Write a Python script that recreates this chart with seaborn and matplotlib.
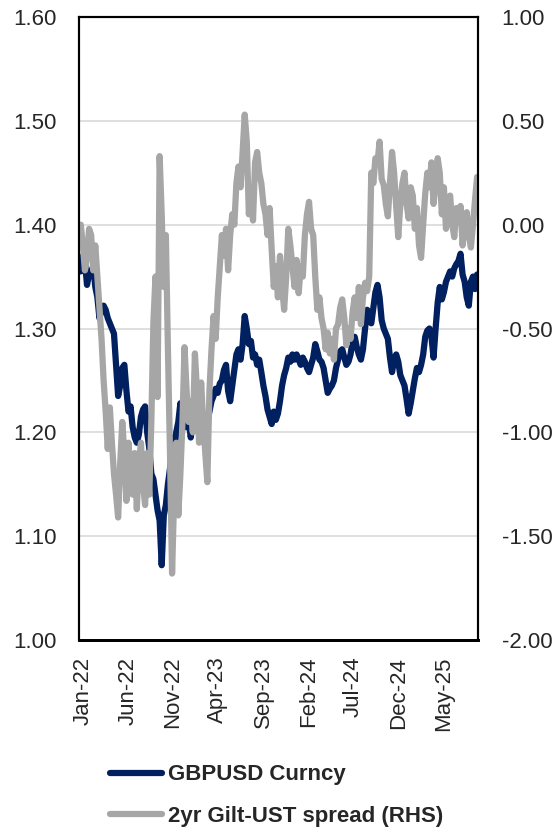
import pandas as pd
import seaborn as sns
import matplotlib.pyplot as plt
import matplotlib.dates as mdates
import matplotlib.transforms as mtrans

# weekly (Friday) observations, 7 Jan 2022 .. 5 Sep 2025
dates = pd.date_range("2022-01-07", "2025-09-05", freq="W-FRI")

# GBPUSD, one row per month
gbpusd = [
    1.355, 1.370, 1.365, 1.342,          # Jan-22
    1.352, 1.355, 1.360, 1.340,
    1.330, 1.310, 1.318, 1.322,
    1.318, 1.310, 1.305, 1.300, 1.295,
    1.265, 1.235, 1.245, 1.262,
    1.265, 1.240, 1.220, 1.225,
    1.205, 1.195, 1.190, 1.198, 1.215,
    1.222, 1.225, 1.200, 1.185,
    1.160, 1.155, 1.140, 1.125, 1.115,
    1.072, 1.120, 1.130, 1.150,
    1.165, 1.195, 1.180, 1.200,
    1.210, 1.228, 1.215, 1.205, 1.205,
    1.212, 1.195, 1.210, 1.235,          # Jan-23
    1.230, 1.215, 1.205, 1.200,
    1.198, 1.210, 1.220, 1.230, 1.235,
    1.242, 1.238, 1.247, 1.250,
    1.260, 1.265, 1.240, 1.230,
    1.245, 1.260, 1.275, 1.280, 1.270,
    1.285, 1.312, 1.300, 1.285,
    1.288, 1.272, 1.275, 1.265,
    1.270, 1.258, 1.245, 1.235, 1.222,
    1.215, 1.208, 1.220, 1.212,
    1.218, 1.230, 1.245, 1.255,
    1.262, 1.272, 1.268, 1.275, 1.270,
    1.275, 1.270, 1.265, 1.272,          # Jan-24
    1.268, 1.262, 1.258, 1.265,
    1.272, 1.285, 1.278, 1.270, 1.268,
    1.262, 1.250, 1.238, 1.242,
    1.245, 1.250, 1.262, 1.270, 1.278,
    1.280, 1.272, 1.265, 1.268,
    1.275, 1.288, 1.292, 1.282,
    1.275, 1.270, 1.280, 1.300, 1.318,
    1.310, 1.305, 1.320, 1.335,
    1.342, 1.330, 1.308, 1.300,
    1.295, 1.290, 1.272, 1.258, 1.270,
    1.275, 1.268, 1.255, 1.250,
    1.245, 1.232, 1.218, 1.228, 1.240,   # Jan-25
    1.252, 1.262, 1.258, 1.265,
    1.275, 1.292, 1.298, 1.300,
    1.292, 1.272, 1.300, 1.325,
    1.340, 1.328, 1.335, 1.345, 1.350,
    1.355, 1.350, 1.358, 1.362,
    1.365, 1.372, 1.352, 1.345,
    1.330, 1.322, 1.345, 1.350, 1.338,
    1.352,                               # Sep-25
]

# 2yr Gilt - UST spread (pp, right axis)
spread_2y = [
    0.00, -0.10, -0.22, -0.15,           # Jan-22
    -0.02, -0.05, -0.22, -0.10,
    -0.25, -0.40, -0.55, -0.75,
    -0.90, -1.08, -0.88, -1.05, -1.20,
    -1.30, -1.41, -1.15, -0.95,
    -1.10, -1.33, -1.05, -1.20,
    -1.30, -1.10, -1.37, -1.15, -1.05,
    -1.25, -1.35, -1.10, -1.30,
    -0.95, -0.47, -0.25, -0.83, 0.33,
    0.05, -0.30, -0.05, -0.60,
    -1.10, -1.68, -1.30, -1.05,
    -1.40, -1.20, -0.95, -0.59, -0.80,
    -0.95, -0.85, -1.00, -0.62,          # Jan-23
    -0.80, -1.05, -0.76, -0.95,
    -1.10, -1.24, -0.80, -0.60, -0.44,
    -0.55, -0.35, -0.20, -0.05,
    -0.15, -0.02, -0.22, -0.05,
    0.05, 0.00, 0.20, 0.28, 0.18,
    0.35, 0.53, 0.40, 0.05,
    0.18, 0.02, 0.30, 0.35,
    0.25, 0.20, 0.10, 0.05, -0.05,
    0.08, -0.12, -0.30, -0.20,
    -0.35, -0.15, -0.30, -0.41,
    -0.25, -0.02, -0.10, -0.20, -0.30,
    -0.17, -0.33, -0.20, -0.25,          # Jan-24
    -0.05, 0.05, 0.11, -0.02,
    -0.05, -0.25, -0.41, -0.35, -0.45,
    -0.50, -0.60, -0.52, -0.62,
    -0.55, -0.65, -0.50, -0.48, -0.40,
    -0.36, -0.45, -0.58, -0.50,
    -0.55, -0.42, -0.35, -0.45,
    -0.30, -0.48, -0.35, -0.28, -0.32,
    -0.25, 0.25, 0.20, 0.32,
    0.30, 0.40, 0.22, 0.19,
    0.10, 0.04, 0.20, 0.35, 0.25,
    0.09, -0.06, 0.10, 0.20,
    0.25, 0.10, 0.03, 0.18, 0.14,        # Jan-25
    -0.02, 0.08, -0.10, -0.16,
    0.00, 0.15, 0.25, 0.18,
    0.30, 0.10, 0.20, 0.32,
    0.25, 0.05, 0.18, -0.02, 0.10,
    0.14, 0.00, -0.06, 0.08,
    0.02, 0.09, -0.10, 0.00,
    0.06, -0.05, -0.11, 0.00, 0.12,
    0.23,                                # Sep-25
]

tick_dates = pd.date_range("2022-01-01", periods=9, freq="5MS")
left_ticks = [1.00, 1.10, 1.20, 1.30, 1.40, 1.50, 1.60]
right_ticks = [-2.00, -1.50, -1.00, -0.50, 0.00, 0.50, 1.00]

df = pd.DataFrame({"date": dates, "gbpusd": gbpusd, "spread": spread_2y})

sns.set_style("white")
plt.rcParams["font.family"] = ["Liberation Sans", "DejaVu Sans"]

fig = plt.figure(figsize=(5.52, 8.3), dpi=100)
ax = fig.add_axes([79 / 552, 1 - 640 / 830, (478 - 79) / 552, (640 - 17) / 830])
ax2 = ax.twinx()

sns.lineplot(data=df, x="date", y="gbpusd", ax=ax, color="#002060", linewidth=4.5,
             label="GBPUSD Curncy", legend=False)
sns.lineplot(data=df, x="date", y="spread", ax=ax2, color="#A6A6A6", linewidth=4.5,
             label="2yr Gilt-UST spread (RHS)", legend=False)

ax.set_ylim(1.00, 1.60)
ax2.set_ylim(-2.00, 1.00)
ax.set_xlim(pd.Timestamp("2022-01-01"), pd.Timestamp("2025-09-08"))
ax.set_yticks(left_ticks)
ax2.set_yticks(right_ticks)
ax.set_yticklabels([f"{v:.2f}" for v in left_ticks])
ax2.set_yticklabels([f"{v:.2f}" for v in right_ticks])
ax.set_xticks(tick_dates)
ax.xaxis.set_major_formatter(mdates.DateFormatter("%b-%y"))
ax.set_xlabel("")
ax.set_ylabel("")
ax2.set_ylabel("")

ax.grid(axis="y", color="#D9D9D9", linewidth=1.2)
ax.set_axisbelow(True)

ax.tick_params(axis="y", length=0, labelsize=16, pad=16)
ax2.tick_params(axis="y", length=0, labelsize=16, pad=17)
ax.tick_params(axis="x", length=0, labelsize=16, pad=12, rotation=90)
shift = mtrans.ScaledTranslation(4 / 100, 0, fig.dpi_scale_trans)
for lab in ax.get_xticklabels():
    lab.set_transform(lab.get_transform() + shift)

for a in (ax, ax2):
    for side in ("top", "left", "right"):
        a.spines[side].set_color("black")
        a.spines[side].set_linewidth(1.5)
    a.spines["bottom"].set_color("black")
    a.spines["bottom"].set_linewidth(2.0)

h1, l1 = ax.get_legend_handles_labels()
h2, l2 = ax2.get_legend_handles_labels()
leg = fig.legend(h1 + h2, l1 + l2, loc="upper left", bbox_to_anchor=(0.2, 0.079),
                 frameon=False, borderpad=0, borderaxespad=0, handlelength=2.3,
                 handletextpad=0.28, labelspacing=0.92,
                 prop={"size": 16, "weight": "bold"})
for line in leg.get_lines():
    line.set_linewidth(4.5)

fig.savefig("out.png", dpi=100)
